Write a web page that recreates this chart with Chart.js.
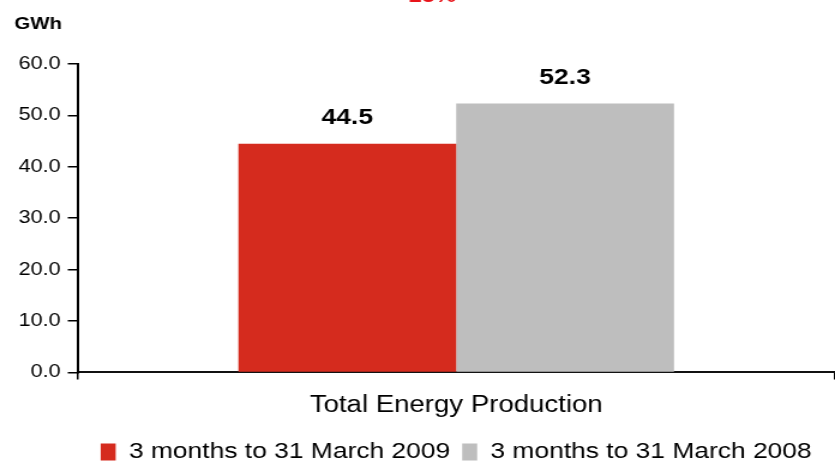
<!DOCTYPE html>
<html>
<head>
<meta charset="utf-8">
<script src="https://cdn.jsdelivr.net/npm/chart.js@4/dist/chart.umd.min.js"></script>
<style>
  html, body { margin: 0; padding: 0; background: #fff; overflow: hidden; }
  canvas { display: block; }
</style>
</head>
<body>
<!-- drawn narrow, shown wide: text comes out horizontally stretched -->
<canvas id="chart" width="696" height="463" style="width: 835px; height: 463px;"></canvas>
<script>
// Chart data
const categories = ["Total Energy Production"];
const seriesNames = ["3 months to 31 March 2009", "3 months to 31 March 2008"];
const production2009 = [44.5];
const production2008 = [52.3];
const yTicks = [0, 10, 20, 30, 40, 50, 60];
const changeText = "-15%";

const fontFamily = "'Liberation Sans', Arial, Helvetica, sans-serif";

// Value labels above each bar
const barLabels = {
  id: "barLabels",
  afterDatasetsDraw(chart) {
    const ctx = chart.ctx;
    ctx.save();
    ctx.font = "bold 22px " + fontFamily;
    ctx.fillStyle = "#000";
    ctx.textAlign = "center";
    ctx.textBaseline = "alphabetic";
    chart.data.datasets.forEach((ds, i) => {
      chart.getDatasetMeta(i).data.forEach((bar, j) => {
        ctx.fillText(ds.data[j].toFixed(1), bar.x, bar.y - 19.5);
      });
    });
    ctx.restore();
  },
};

// Red change figure sitting at the very top edge
const changeNote = {
  id: "changeNote",
  afterDraw(chart) {
    const ctx = chart.ctx;
    ctx.save();
    ctx.font = "bold 20px " + fontFamily;
    ctx.fillStyle = "#e8141a";
    ctx.textAlign = "center";
    ctx.textBaseline = "alphabetic";
    ctx.fillText(changeText, 357, 2);
    ctx.restore();
  },
};

const ctx = document.getElementById("chart").getContext("2d");
new Chart(ctx, {
  type: "bar",
  data: {
    labels: categories,
    datasets: [
      {
        label: seriesNames[0],
        data: production2009,
        backgroundColor: "#d52b1e",
        borderWidth: 0,
      },
      {
        label: seriesNames[1],
        data: production2008,
        backgroundColor: "#bebebe",
        borderWidth: 0,
      },
    ],
  },
  options: {
    responsive: false,
    animation: false,
    devicePixelRatio: 1,
    layout: {
      padding: { left: 12, right: 0, top: 0, bottom: -10 },
    },
    datasets: {
      bar: {
        barPercentage: 1,
        categoryPercentage: 0.575,
      },
    },
    scales: {
      x: {
        offset: true,
        border: { display: true, color: "#111", width: 2 },
        grid: {
          offset: true,
          drawOnChartArea: false,
          drawTicks: true,
          tickLength: 7,
          color: "#000",
          lineWidth: 1.5,
        },
        ticks: {
          color: "#000",
          padding: 12,
          font: { family: fontFamily, size: 23 },
        },
      },
      y: {
        min: 0,
        max: 60,
        afterBuildTicks(axis) {
          axis.ticks = yTicks.map((v) => ({ value: v }));
        },
        afterFit(axis) {
          axis.width = 52.5;
        },
        border: { display: true, color: "#000", width: 2 },
        grid: {
          drawOnChartArea: false,
          drawTicks: true,
          tickLength: 8,
          color: "#000",
          lineWidth: 1.5,
        },
        ticks: {
          color: "#000",
          padding: 6,
          font: { family: fontFamily, size: 18 },
          callback: (v) => Number(v).toFixed(1),
        },
      },
    },
    plugins: {
      title: {
        display: true,
        text: "GWh",
        align: "start",
        color: "#000",
        font: { family: fontFamily, size: 17, weight: "bold" },
        padding: { top: 14, bottom: 29.6 },
      },
      legend: {
        position: "bottom",
        fullSize: false,
        labels: {
          color: "#000",
          boxWidth: 12.5,
          boxHeight: 17,
          padding: 10,
          font: { family: fontFamily, size: 22 },
        },
      },
      tooltip: { enabled: false },
    },
  },
  plugins: [barLabels, changeNote],
});
</script>
</body>
</html>
